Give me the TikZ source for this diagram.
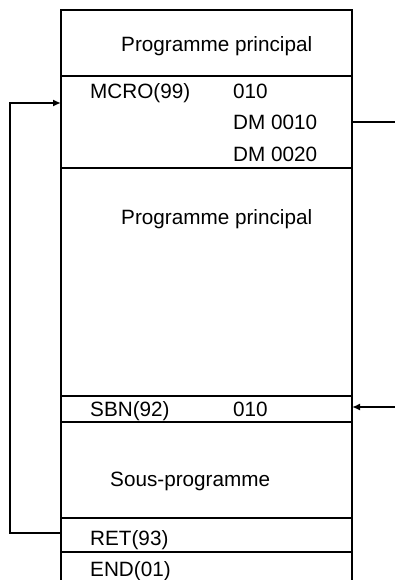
\documentclass[tikz,border=0pt]{standalone}
\usepackage{fontspec}
\setmainfont{Liberation Sans}
\usetikzlibrary{arrows.meta}
\begin{document}
\begin{tikzpicture}[x=1pt,y=-1pt,
  sec/.style={draw, line width=2.6pt, rectangle, minimum width=291pt, inner sep=0pt, outer sep=0pt},
  txt/.style={anchor=base west, inner sep=0pt, font=\fontsize{20.7pt}{24pt}\selectfont},
  conn/.style={line width=2.6pt},
  arr/.style={line width=2.6pt, -{Latex[length=8pt,width=7pt]}}]
\useasboundingbox (0,0) rectangle (395,580);
% sections
\node[sec, minimum height=66pt] (top) at (206.5,43) {};
\node[sec, minimum height=92pt] (mcro) at (206.5,122) {};
\node[sec, minimum height=228pt] (main) at (206.5,282) {};
\node[sec, minimum height=26pt] (sbn) at (206.5,409) {};
\node[sec, minimum height=96pt] (sub) at (206.5,470) {};
\node[sec, minimum height=34pt] (ret) at (206.5,535) {};
\coordinate (endtl) at (61,552);
\coordinate (endtr) at (352,552);
\draw[conn] (61,582) -- (endtl) -- (endtr) -- (352,582);
% texts
\node[txt] (t1) at (121,51.7) {Programme principal};
\node[txt] (t2) at (90,98.3) {MCRO(99)};
\node[txt] (t3) at (233,98.3) {010};
\node[txt] (t4) at (233,130) {DM 0010};
\node[txt] (t5) at (233,161.7) {DM 0020};
\node[txt] (t6) at (121,224) {Programme principal};
\node[txt] (t7) at (90,416.7) {SBN(92)};
\node[txt] (t8) at (233,416.7) {010};
\node[txt] (t9) at (110,486) {Sous-programme};
\node[txt] (t10) at (90,545) {RET(93)};
\node[txt] (t11) at (90,576) {END(01)};
% connectors
\coordinate (out1) at (396,122);
\coordinate (in1) at (396,407);
\coordinate (lb) at (10,533);
\coordinate (lt) at (10,103);
\draw[conn] (mcro.east |- out1) -- (out1);
\draw[arr] (in1) -- (sbn.east |- in1);
\draw[arr] (ret.west |- lb) -- (lb) -- (lt) -- (mcro.west |- lt);
\end{tikzpicture}
\end{document}
